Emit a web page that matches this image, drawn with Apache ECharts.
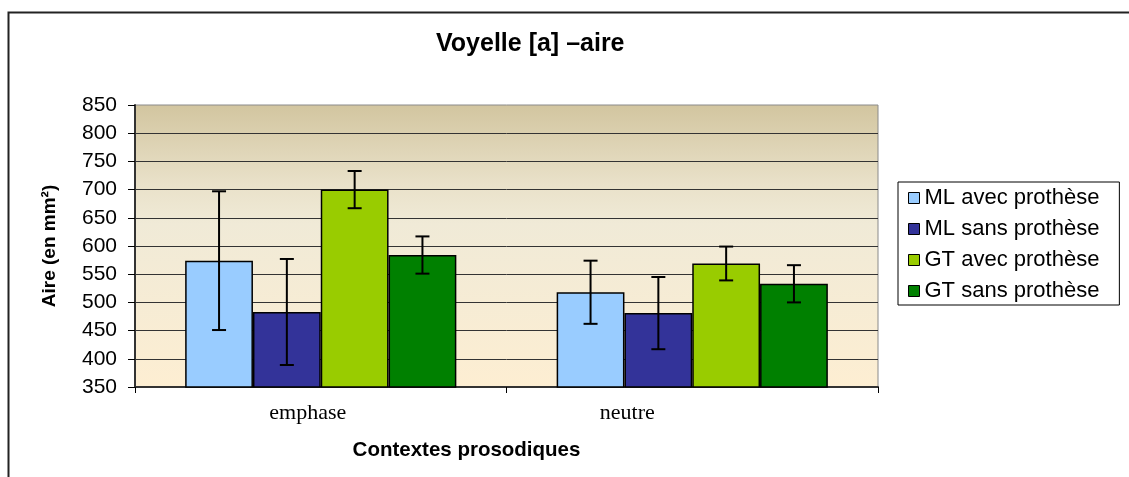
<!DOCTYPE html>
<html><head><meta charset="utf-8">
<script src="https://cdn.jsdelivr.net/npm/echarts@6/dist/echarts.min.js"></script>
<style>html,body{margin:0;padding:0;background:#fff}#c{width:1129px;height:477px}</style>
</head><body><div id="c"></div>
<script>
const categories = ['emphase', 'neutre'];
const seriesNames = ['ML avec prothèse', 'ML sans prothèse', 'GT avec prothèse', 'GT sans prothèse'];
const mlAvec = [574, 518];
const mlSans = [483, 481];
const gtAvec = [700, 569];
const gtSans = [584, 533];
const mlAvecErr = [123, 56];
const mlSansErr = [94, 64];
const gtAvecErr = [33, 30];
const gtSansErr = [33, 33];
const yTicks = { min: 350, max: 850, interval: 50 };
const colors = ['#99ccff', '#333399', '#99cc00', '#008000'];

const values = [mlAvec, mlSans, gtAvec, gtSans];
const errs = [mlAvecErr, mlSansErr, gtAvecErr, gtSansErr];
const CAT_GAP = 0.27;

const errData = [];
values.forEach((arr, s) => arr.forEach((v, c) => errData.push([c, s, v, errs[s][c]])));

const chart = echarts.init(document.getElementById('c'));
const bars = seriesNames.map((n, i) => ({
  name: n, type: 'bar', data: values[i],
  barGap: '0%', barCategoryGap: (CAT_GAP * 100) + '%',
  itemStyle: { color: colors[i], borderColor: '#000', borderWidth: 1.5 },
  z: 2
}));
chart.setOption({
  animation: false,
  title: {
    text: 'Voyelle [a] –aire', left: 431, top: 27,
    textStyle: { fontFamily: 'Liberation Sans', fontWeight: 'bold', fontSize: 25, color: '#000' }
  },
  legend: {
    orient: 'vertical', left: 898, top: 182,
    padding: [5, 20, 3, 10], itemGap: 9, itemWidth: 11, itemHeight: 11,
    borderColor: '#000', borderWidth: 1,
    itemStyle: { borderColor: '#000', borderWidth: 1 },
    textStyle: { fontFamily: 'Liberation Sans', fontSize: 22, color: '#000', lineHeight: 20 },
    data: seriesNames.map(n => ({ name: n, icon: 'rect' }))
  },
  grid: {
    left: 135, right: 251, top: 105, bottom: 90,
    show: true, borderColor: '#8a8a8a', borderWidth: 1,
    backgroundColor: new echarts.graphic.LinearGradient(0, 0, 0, 1, [
      { offset: 0, color: '#d2c59f' },
      { offset: 0.28, color: '#e9e1c9' },
      { offset: 0.42, color: '#f0ead7' },
      { offset: 1, color: '#fdeed2' }
    ])
  },
  xAxis: {
    type: 'category', data: categories,
    axisLine: { lineStyle: { color: '#333', width: 2 } },
    axisTick: { show: true, length: 6, lineStyle: { color: '#000' } },
    axisLabel: {
      margin: 15, color: '#000', fontFamily: 'Liberation Serif', fontSize: 22,
      formatter: (v, i) => (i === 0 ? '{a|' + v + '}' : '{b|' + v + '}'),
      rich: {
        a: { fontFamily: 'Liberation Serif', fontSize: 22, color: '#000', padding: [0, 26, 0, 0] },
        b: { fontFamily: 'Liberation Serif', fontSize: 22, color: '#000', padding: [0, 130, 0, 0] }
      }
    },
    name: 'Contextes prosodiques', nameLocation: 'middle', nameGap: 53,
    nameTextStyle: { fontFamily: 'Liberation Sans', fontWeight: 'bold', fontSize: 20.5, color: '#000', padding: [0, 80, 0, 0] }
  },
  yAxis: {
    type: 'value', min: yTicks.min, max: yTicks.max, interval: yTicks.interval,
    axisLine: { show: true, lineStyle: { color: '#333', width: 2 } },
    axisTick: { show: true, length: 7, lineStyle: { color: '#000' } },
    axisLabel: { margin: 18, color: '#000', fontFamily: 'Liberation Sans', fontSize: 21 },
    splitLine: { show: true, showMaxLine: false, lineStyle: { color: '#333', width: 1 } },
    name: 'Aire (en mm²)', nameLocation: 'middle', nameGap: 76, nameRotate: 90,
    nameTextStyle: { fontFamily: 'Liberation Sans', fontWeight: 'bold', fontSize: 19, color: '#000' }
  },
  graphic: [{
    type: 'rect', left: 6, top: 10, silent: true, z: -10,
    shape: { x: 0, y: 0, width: 1300, height: 700 },
    style: { fill: null, stroke: '#222', lineWidth: 2 }
  }],
  series: bars.concat([{
    type: 'custom', name: 'err', z: 5, silent: true,
    data: errData,
    renderItem: function (params, api) {
      const c = api.value(0), s = api.value(1), v = api.value(2), e = api.value(3);
      const catW = api.size([1, 0])[0];
      const bw = catW * (1 - CAT_GAP) / 4;
      const center = api.coord([c, v]);
      const x = center[0] + (s - 1.5) * bw;
      const yTop = api.coord([c, v + e])[1];
      const yBot = api.coord([c, v - e])[1];
      const cap = 7;
      const st = { stroke: '#000', lineWidth: 2 };
      return { type: 'group', children: [
        { type: 'line', shape: { x1: x, y1: yTop, x2: x, y2: yBot }, style: st },
        { type: 'line', shape: { x1: x - cap, y1: yTop, x2: x + cap, y2: yTop }, style: st },
        { type: 'line', shape: { x1: x - cap, y1: yBot, x2: x + cap, y2: yBot }, style: st }
      ]};
    }
  }])
});
</script></body></html>
